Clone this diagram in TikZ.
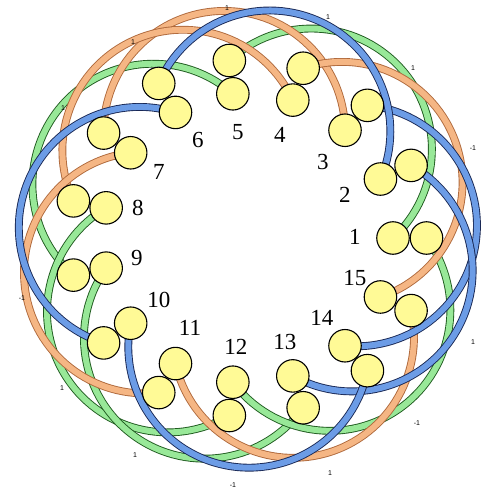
\documentclass[tikz,border=0pt]{standalone}
\usepackage{fontspec}
\setmainfont{Liberation Serif}
\newfontfamily\smallsans{Liberation Sans}
\pgfdeclarelayer{bg}
\pgfsetlayers{bg,main}
\definecolor{bluefill}{RGB}{108,156,230}
\definecolor{blueline}{RGB}{25,40,85}
\definecolor{greenfill}{RGB}{152,232,152}
\definecolor{greenline}{RGB}{30,90,30}
\definecolor{orangefill}{RGB}{245,182,132}
\definecolor{orangeline}{RGB}{175,105,60}
\definecolor{beadfill}{RGB}{255,250,150}
\tikzset{
  bead/.style={circle, draw=black, line width=1.1pt, fill=beadfill, minimum size=32.5pt, inner sep=0pt},
  band/.style={draw=#1line, double=#1fill, double distance=6pt, line width=0.9pt},
  num/.style={font=\fontsize{23}{23}\selectfont, inner sep=0pt},
  sgn/.style={font=\smallsans\fontsize{7}{7}\selectfont, inner sep=0pt}
}
\begin{document}
\begin{tikzpicture}[x=1pt,y=1pt]
\useasboundingbox (-248,-250) rectangle (243,238);
% beads
\foreach \i in {1,...,15}{
  \pgfmathsetmacro\t{24*(\i-1)}
  \node[bead] (in\i) at (\t:145pt) {};
  \node[bead] (out\i) at (\t:178.5pt) {};
}
% bands: inner bead i -> outer bead i+4 (semicircles)
\begin{pgfonlayer}{bg}
\foreach \i/\c in {1/green,5/green,8/green,9/green,12/green,
                   3/orange,4/orange,7/orange,11/orange,15/orange,
                   14/blue,13/blue,10/blue,6/blue,2/blue}{
  \pgfmathsetmacro\t{24*(\i-1)}
  \draw[band=\c] (in\i.center) arc[start angle=\t-47.33, end angle=\t+132.67, radius=120.72pt];
}
\end{pgfonlayer}
% numbers
\node[num] (n1) at (107,1) {1};
\node[num] (n2) at (97,43) {2};
\node[num] (n3) at (75,76) {3};
\node[num] (n4) at (32,103) {4};
\node[num] (n5) at (-10,106) {5};
\node[num] (n6) at (-50,98) {6};
\node[num] (n7) at (-89,66) {7};
\node[num] (n8) at (-110,30) {8};
\node[num] (n9) at (-111,-20) {9};
\node[num] (n10) at (-89,-62) {10};
\node[num] (n11) at (-58,-90) {11};
\node[num] (n12) at (-12,-109) {12};
\node[num] (n13) at (37,-104) {13};
\node[num] (n14) at (74,-80) {14};
\node[num] (n15) at (107,-40) {15};
% crossing signs
\node[sgn] (s1) at (-21,230) {1};
\node[sgn] (s2) at (80,221) {1};
\node[sgn] (s3) at (165,170) {1};
\node[sgn] (s4) at (225,90) {-1};
\node[sgn] (s5) at (225,-104) {1};
\node[sgn] (s6) at (169,-185) {-1};
\node[sgn] (s7) at (82,-235) {1};
\node[sgn] (s8) at (-15,-247) {-1};
\node[sgn] (s9) at (-113,-217) {1};
\node[sgn] (s10) at (-186,-150) {1};
\node[sgn] (s11) at (-226,-60) {-1};
\node[sgn] (s12) at (-185,130) {1};
\node[sgn] (s13) at (-115,196) {1};
\end{tikzpicture}
\end{document}
